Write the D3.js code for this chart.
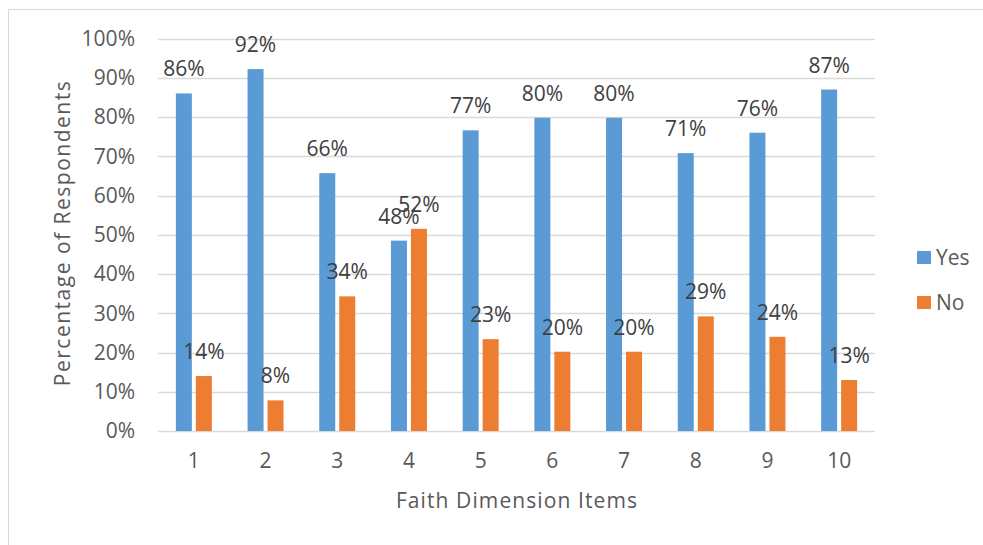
<!DOCTYPE html>
<html><head><meta charset="utf-8">
<script src="https://cdn.jsdelivr.net/npm/d3@7/dist/d3.min.js"></script>
<style>body{margin:0;background:#fff;}svg{display:block;font-family:"Open Sans",sans-serif;}</style>
</head><body>
<svg id="c" width="983" height="545"></svg>
<script>
const categories = ["1","2","3","4","5","6","7","8","9","10"];
const yesValues = [0.86,0.922,0.657,0.485,0.766,0.798,0.798,0.708,0.76,0.87];
const noValues  = [0.14,0.078,0.343,0.515,0.234,0.202,0.202,0.292,0.24,0.13];
const yesLabels = ["86%","92%","66%","48%","77%","80%","80%","71%","76%","87%"];
const noLabels  = ["14%","8%","34%","52%","23%","20%","20%","29%","24%","13%"];
const yTicks = [0,0.1,0.2,0.3,0.4,0.5,0.6,0.7,0.8,0.9,1.0];
const seriesNames = ["Yes","No"];
const colors = ["#5B9BD5","#ED7D31"];

const svg = d3.select("#c");
// outer border
svg.append("path").attr("d","M8.5,545 L8.5,9.5 L983,9.5").attr("fill","none").attr("stroke","#D9D9D9");

const m = {l:158,r:875,t:38.5,b:431};
const x = d3.scaleBand().domain(categories).range([m.l,m.r]);
const y = d3.scaleLinear().domain([0,1]).range([m.b,m.t]);

// gridlines
svg.append("g").selectAll("line").data(yTicks).join("line")
 .attr("x1",m.l).attr("x2",m.r).attr("y1",d=>Math.round(y(d))+0.5).attr("y2",d=>Math.round(y(d))+0.5)
 .attr("stroke","#D9D9D9").attr("stroke-width",1.3);

// y tick labels
svg.append("g").selectAll("text").data(yTicks).join("text")
 .attr("x",135).attr("y",d=>y(d)).attr("dy","0.35em").attr("text-anchor","end")
 .attr("fill","#595959").attr("font-size",21).text(d=>d3.format(".0%")(d));

// x tick labels
svg.append("g").selectAll("text").data(categories).join("text")
 .attr("x",d=>x(d)+x.bandwidth()/2).attr("y",468).attr("text-anchor","middle")
 .attr("fill","#595959").attr("font-size",21).text(d=>d);

const bw = 16, off = 10;
const series = [yesValues,noValues];
const labels = [yesLabels,noLabels];
series.forEach((vals,si)=>{
  const dx = si===0 ? -off : off;
  svg.append("g").selectAll("rect").data(vals).join("rect")
   .attr("x",(d,i)=>x(categories[i])+x.bandwidth()/2+dx-bw/2)
   .attr("y",d=>y(d)).attr("width",bw).attr("height",d=>m.b-y(d))
   .attr("fill",colors[si]);
  svg.append("g").selectAll("text").data(vals).join("text")
   .attr("x",(d,i)=>x(categories[i])+x.bandwidth()/2+dx)
   .attr("y",d=>y(d)-17).attr("text-anchor","middle")
   .attr("fill","#404040").attr("font-size",21).text((d,i)=>labels[si][i]);
});

// axis titles
svg.append("text").attr("transform","translate(70,233) rotate(-90)").attr("text-anchor","middle")
 .attr("fill","#595959").attr("font-size",21).attr("letter-spacing","1.5px").text("Percentage of Respondents");
svg.append("text").attr("x",517).attr("y",508).attr("text-anchor","middle")
 .attr("fill","#595959").attr("font-size",21).attr("letter-spacing","1.1px").text("Faith Dimension Items");

// legend
const lg = svg.append("g");
seriesNames.forEach((n,i)=>{
  const ly = 257.5 + i*45;
  lg.append("rect").attr("x",917).attr("y",ly-6.5).attr("width",14).attr("height",13).attr("fill",colors[i]);
  lg.append("text").attr("x",936).attr("y",ly).attr("dy","0.35em").attr("fill","#595959").attr("font-size",21).text(n);
});
</script>
</body></html>
